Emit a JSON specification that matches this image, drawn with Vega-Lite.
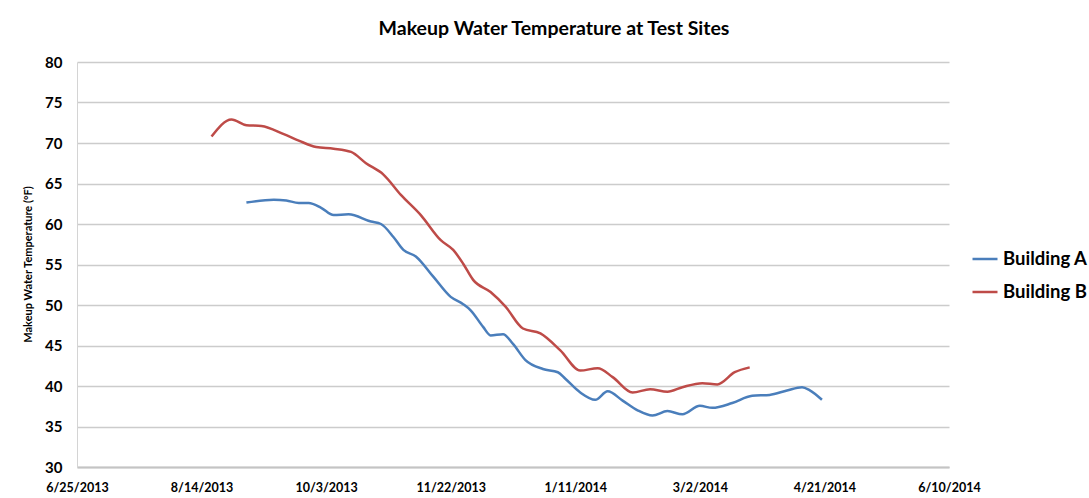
{
  "$schema": "https://vega.github.io/schema/vega-lite/v6.json",
  "autosize": {"type": "none"},
  "padding": {"left": 77, "top": 62, "right": 140, "bottom": 31},
  "width": 872,
  "height": 405,
  "background": "white",
  "title": {"text": "Makeup Water Temperature at Test Sites", "anchor": "middle", "frame": "group", "dx": 41, "offset": 16, "font": "Lato", "fontSize": 19.5, "fontWeight": "bold", "color": "#000000"},
  "data": {"values": [
    {"date": "2013-08-18", "site": "Building B", "temp": 70.8},
    {"date": "2013-08-26", "site": "Building B", "temp": 72.9},
    {"date": "2013-09-01", "site": "Building B", "temp": 72.2},
    {"date": "2013-09-07", "site": "Building B", "temp": 72.1},
    {"date": "2013-09-16", "site": "Building B", "temp": 71.1},
    {"date": "2013-09-22", "site": "Building B", "temp": 70.3},
    {"date": "2013-09-29", "site": "Building B", "temp": 69.5},
    {"date": "2013-10-06", "site": "Building B", "temp": 69.3},
    {"date": "2013-10-13", "site": "Building B", "temp": 68.9},
    {"date": "2013-10-19", "site": "Building B", "temp": 67.5},
    {"date": "2013-10-26", "site": "Building B", "temp": 66.1},
    {"date": "2013-11-02", "site": "Building B", "temp": 63.6},
    {"date": "2013-11-10", "site": "Building B", "temp": 61.1},
    {"date": "2013-11-18", "site": "Building B", "temp": 58.0},
    {"date": "2013-11-23", "site": "Building B", "temp": 56.8},
    {"date": "2013-11-27", "site": "Building B", "temp": 55.1},
    {"date": "2013-12-01", "site": "Building B", "temp": 53.1},
    {"date": "2013-12-08", "site": "Building B", "temp": 51.6},
    {"date": "2013-12-14", "site": "Building B", "temp": 49.8},
    {"date": "2013-12-21", "site": "Building B", "temp": 47.1},
    {"date": "2013-12-28", "site": "Building B", "temp": 46.5},
    {"date": "2014-01-05", "site": "Building B", "temp": 44.4},
    {"date": "2014-01-13", "site": "Building B", "temp": 41.9},
    {"date": "2014-01-20", "site": "Building B", "temp": 42.2},
    {"date": "2014-01-26", "site": "Building B", "temp": 41.1},
    {"date": "2014-02-03", "site": "Building B", "temp": 39.2},
    {"date": "2014-02-10", "site": "Building B", "temp": 39.6},
    {"date": "2014-02-17", "site": "Building B", "temp": 39.3},
    {"date": "2014-02-23", "site": "Building B", "temp": 39.85},
    {"date": "2014-03-03", "site": "Building B", "temp": 40.35},
    {"date": "2014-03-09", "site": "Building B", "temp": 40.2},
    {"date": "2014-03-16", "site": "Building B", "temp": 41.7},
    {"date": "2014-03-22", "site": "Building B", "temp": 42.3},
    {"date": "2013-09-01", "site": "Building A", "temp": 62.65},
    {"date": "2013-09-12", "site": "Building A", "temp": 63.0},
    {"date": "2013-09-17", "site": "Building A", "temp": 62.9},
    {"date": "2013-09-22", "site": "Building A", "temp": 62.6},
    {"date": "2013-09-26", "site": "Building A", "temp": 62.6},
    {"date": "2013-10-01", "site": "Building A", "temp": 62.0},
    {"date": "2013-10-06", "site": "Building A", "temp": 61.1},
    {"date": "2013-10-12", "site": "Building A", "temp": 61.2},
    {"date": "2013-10-21", "site": "Building A", "temp": 60.3},
    {"date": "2013-10-25", "site": "Building A", "temp": 60.0},
    {"date": "2013-10-30", "site": "Building A", "temp": 58.4},
    {"date": "2013-11-03", "site": "Building A", "temp": 56.8},
    {"date": "2013-11-08", "site": "Building A", "temp": 56.0},
    {"date": "2013-11-15", "site": "Building A", "temp": 53.5},
    {"date": "2013-11-22", "site": "Building A", "temp": 51.0},
    {"date": "2013-11-27", "site": "Building A", "temp": 50.1},
    {"date": "2013-11-30", "site": "Building A", "temp": 49.35},
    {"date": "2013-12-05", "site": "Building A", "temp": 47.3},
    {"date": "2013-12-08", "site": "Building A", "temp": 46.25},
    {"date": "2013-12-13", "site": "Building A", "temp": 46.4},
    {"date": "2013-12-17", "site": "Building A", "temp": 45.2},
    {"date": "2013-12-22", "site": "Building A", "temp": 43.2},
    {"date": "2013-12-29", "site": "Building A", "temp": 42.1},
    {"date": "2014-01-04", "site": "Building A", "temp": 41.7},
    {"date": "2014-01-07", "site": "Building A", "temp": 40.9},
    {"date": "2014-01-13", "site": "Building A", "temp": 39.2},
    {"date": "2014-01-19", "site": "Building A", "temp": 38.3},
    {"date": "2014-01-24", "site": "Building A", "temp": 39.35},
    {"date": "2014-01-30", "site": "Building A", "temp": 38.2},
    {"date": "2014-02-05", "site": "Building A", "temp": 37.0},
    {"date": "2014-02-11", "site": "Building A", "temp": 36.35},
    {"date": "2014-02-17", "site": "Building A", "temp": 36.9},
    {"date": "2014-02-23", "site": "Building A", "temp": 36.5},
    {"date": "2014-03-02", "site": "Building A", "temp": 37.55},
    {"date": "2014-03-07", "site": "Building A", "temp": 37.3},
    {"date": "2014-03-15", "site": "Building A", "temp": 37.9},
    {"date": "2014-03-23", "site": "Building A", "temp": 38.8},
    {"date": "2014-03-30", "site": "Building A", "temp": 38.9},
    {"date": "2014-04-06", "site": "Building A", "temp": 39.45},
    {"date": "2014-04-12", "site": "Building A", "temp": 39.85},
    {"date": "2014-04-15", "site": "Building A", "temp": 39.5},
    {"date": "2014-04-20", "site": "Building A", "temp": 38.3}
  ]},
  "mark": {"type": "line", "interpolate": "monotone", "strokeWidth": 2.5},
  "encoding": {
    "x": {
      "field": "date", "type": "temporal",
      "scale": {"type": "utc", "domain": [{"year": 2013, "month": 6, "date": 25, "utc": true}, {"year": 2014, "month": 6, "date": 10, "utc": true}], "nice": false},
      "axis": {
        "title": null, "grid": false, "ticks": false,
        "values": [
          {"year": 2013, "month": 6, "date": 25, "utc": true},
          {"year": 2013, "month": 8, "date": 14, "utc": true},
          {"year": 2013, "month": 10, "date": 3, "utc": true},
          {"year": 2013, "month": 11, "date": 22, "utc": true},
          {"year": 2014, "month": 1, "date": 11, "utc": true},
          {"year": 2014, "month": 3, "date": 2, "utc": true},
          {"year": 2014, "month": 4, "date": 21, "utc": true},
          {"year": 2014, "month": 6, "date": 10, "utc": true}
        ],
        "labelExpr": "utcFormat(datum.value, '%-m/%-d/%Y')",
        "labelFont": "Lato", "labelFontSize": 12.5, "labelFontWeight": "bold", "labelColor": "#000000",
        "labelPadding": 14, "labelFlush": false, "labelOverlap": false,
        "domainColor": "#c4c4c4", "domainWidth": 2
      }
    },
    "y": {
      "field": "temp", "type": "quantitative",
      "scale": {"domain": [30, 80], "nice": false, "zero": false},
      "axis": {
        "title": "Makeup Water Temperature (°F)",
        "titleFont": "Lato", "titleFontSize": 11, "titleFontWeight": "bold", "titleColor": "#000000",
        "titleX": -49, "titleY": 202, "titleBaseline": "middle", "titleAngle": -90, "titleAlign": "center",
        "values": [30, 35, 40, 45, 50, 55, 60, 65, 70, 75, 80],
        "ticks": false,
        "labelFont": "Lato", "labelFontSize": 15, "labelFontWeight": "bold", "labelColor": "#000000",
        "labelPadding": 15,
        "grid": true, "gridColor": "#cccccc", "gridWidth": 1.5,
        "domainColor": "#d4d4d4", "domainWidth": 1
      }
    },
    "color": {
      "field": "site", "type": "nominal",
      "scale": {"domain": ["Building A", "Building B"], "range": ["#4a7ebb", "#be4b48"]},
      "legend": {
        "title": null, "orient": "none", "legendX": 894, "legendY": 183,
        "symbolType": "stroke", "symbolSize": 625, "symbolStrokeWidth": 2.5,
        "labelFont": "Lato", "labelFontSize": 18.5, "labelFontWeight": "bold", "labelColor": "#000000",
        "labelOffset": 4, "rowPadding": 9
      }
    }
  },
  "config": {"view": {"stroke": null}}
}
